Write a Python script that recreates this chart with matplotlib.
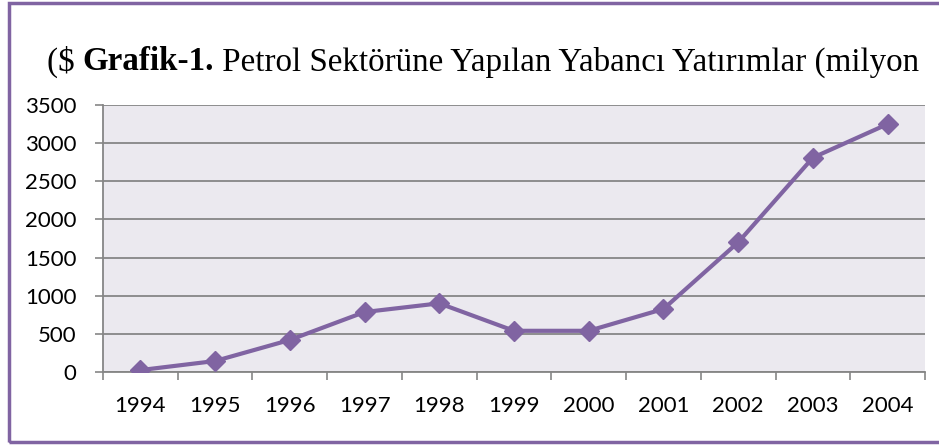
import matplotlib
matplotlib.use("Agg")
import matplotlib.pyplot as plt
from matplotlib.patches import Rectangle
import numpy as np

years = ["1994", "1995", "1996", "1997", "1998", "1999", "2000", "2001", "2002", "2003", "2004"]
values = [25, 144, 420, 786, 900, 540, 540, 826, 1700, 2810, 3250]
yticks = [0, 500, 1000, 1500, 2000, 2500, 3000, 3500]

W, H = 939, 445
fig = plt.figure(figsize=(W / 100, H / 100), dpi=100)
fig.patch.set_facecolor("white")

purple = "#8064A2"
# outer frame
fig.patches.append(Rectangle((9 / W, 1 - 442 / H), 1.2, (442 - 3) / H,
                             transform=fig.transFigure, fill=False,
                             edgecolor=purple, linewidth=2.5))

ax = fig.add_axes([103 / W, 1 - 372 / H, (925 - 103) / W, (372 - 105) / H])
ax.set_facecolor("#EBE9EF")
x = np.arange(len(years))
ax.plot(x, values, color=purple, linewidth=3, marker="D", markersize=10.5,
        markerfacecolor=purple, markeredgecolor=purple, zorder=3)

ax.set_xlim(-0.5, len(years) - 0.5)
ax.set_ylim(0, 3500)
ax.set_yticks(yticks)
ax.set_yticklabels([str(v) for v in yticks], fontfamily="Lato", fontsize=16)
ax.set_xticks(np.arange(-0.5, len(years), 1.0))
ax.set_xticklabels([])
ax.set_xticks(x, minor=True)
ax.set_xticklabels(years, minor=True, fontfamily="Lato", fontsize=16)
ax.tick_params(axis="x", which="major", length=6, width=1.2, color="#868686", direction="out")
ax.tick_params(axis="x", which="minor", length=0, pad=17)
ax.tick_params(axis="y", length=6, width=1.2, color="#868686", pad=13)
ax.grid(axis="y", color="#868686", linewidth=1.3)
ax.set_axisbelow(True)
for s in ["top", "right"]:
    ax.spines[s].set_visible(False)
for s in ["left", "bottom"]:
    ax.spines[s].set_color("#868686")
    ax.spines[s].set_linewidth(1.3)

title_parts = [("($ ", "normal"), ("Grafik-1.", "bold"),
               (" Petrol Sektörüne Yapılan Yabancı Yatırımlar (milyon", "normal")]
renderer = fig.canvas.get_renderer()
xpos = 47 / W
for txt, wt in title_parts:
    t = fig.text(xpos, 1 - 62 / H, txt, fontfamily="Liberation Serif", fontsize=23.8,
                 fontweight=wt, va="center", ha="left")
    bb = t.get_window_extent(renderer=renderer)
    xpos += bb.width / W

fig.savefig("out.png", dpi=100)
